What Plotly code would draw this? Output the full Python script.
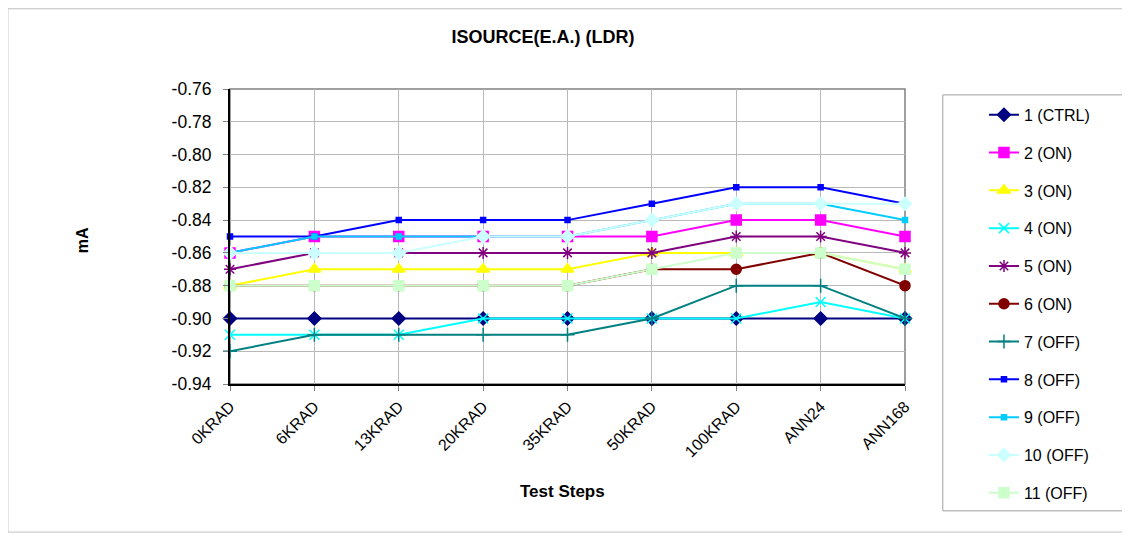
import plotly.graph_objects as go

# ── DATA ──────────────────────────────────────────────────────────────────────
steps = ["0KRAD", "6KRAD", "13KRAD", "20KRAD", "35KRAD", "50KRAD", "100KRAD", "ANN24", "ANN168"]
y_ticks = [-0.76, -0.78, -0.80, -0.82, -0.84, -0.86, -0.88, -0.90, -0.92, -0.94]

s1_ctrl = [-0.90, -0.90, -0.90, -0.90, -0.90, -0.90, -0.90, -0.90, -0.90]
s2_on = [-0.86, -0.85, -0.85, -0.85, -0.85, -0.85, -0.84, -0.84, -0.85]
s3_on = [-0.88, -0.87, -0.87, -0.87, -0.87, -0.86, -0.86, -0.86, -0.87]
s4_on = [-0.91, -0.91, -0.91, -0.90, -0.90, -0.90, -0.90, -0.89, -0.90]
s5_on = [-0.87, -0.86, -0.86, -0.86, -0.86, -0.86, -0.85, -0.85, -0.86]
s6_on = [-0.88, -0.88, -0.88, -0.88, -0.88, -0.87, -0.87, -0.86, -0.88]
s7_off = [-0.92, -0.91, -0.91, -0.91, -0.91, -0.90, -0.88, -0.88, -0.90]
s8_off = [-0.85, -0.85, -0.84, -0.84, -0.84, -0.83, -0.82, -0.82, -0.83]
s9_off = [-0.86, -0.85, -0.85, -0.85, -0.85, -0.84, -0.83, -0.83, -0.84]
s10_off = [-0.86, -0.86, -0.86, -0.85, -0.85, -0.84, -0.83, -0.83, -0.83]
s11_off = [-0.88, -0.88, -0.88, -0.88, -0.88, -0.87, -0.86, -0.86, -0.87]

series = [
    ("1 (CTRL)", s1_ctrl, "#000080", "diamond", 10),
    ("2 (ON)", s2_on, "#FF00FF", "square", 10),
    ("3 (ON)", s3_on, "#FFFF00", "triangle-up", 11),
    ("4 (ON)", s4_on, "#00FFFF", "x-thin-open", 10),
    ("5 (ON)", s5_on, "#800080", "asterisk-open", 10),
    ("6 (ON)", s6_on, "#800000", "circle", 10),
    ("7 (OFF)", s7_off, "#008080", "cross-thin-open", 10),
    ("8 (OFF)", s8_off, "#0000FF", "square", 5),
    ("9 (OFF)", s9_off, "#00CCFF", "square", 5),
    ("10 (OFF)", s10_off, "#CCFFFF", "diamond", 10),
    ("11 (OFF)", s11_off, "#CCFFCC", "square", 10),
]

FONT = "Liberation Sans, Arial, sans-serif"

fig = go.Figure()

for i, (name, vals, color, symbol, size) in enumerate(series):
    fig.add_trace(
        go.Scatter(
            x=steps,
            y=vals,
            name=name,
            mode="lines+markers",
            line=dict(color=color, width=2),
            marker=dict(symbol=symbol, size=size, color=color,
                        line=dict(color=color, width=1.5)),
            cliponaxis=False,
            legendgroup=f"g{i}",
        )
    )

# ── FRAMES (chart area, plot area, legend box) ───────────────────────────────
fig.add_shape(type="rect", xref="paper", yref="paper",
              x0=-0.329, x1=1.329, y0=-0.502, y1=1.272,
              line=dict(color="#c0c0c0", width=1), layer="below")
fig.add_shape(type="rect", xref="paper", yref="paper",
              x0=0, x1=1, y0=0, y1=1,
              line=dict(color="#808080", width=1.5), layer="below")
fig.add_shape(type="rect", xref="paper", yref="paper",
              x0=1.056, x1=1.36, y0=-0.43, y1=0.98,
              line=dict(color="#a0a0a0", width=1), layer="below")

# ── AXIS TITLES ───────────────────────────────────────────────────────────────
fig.add_annotation(x=-0.219, y=0.488, xref="paper", yref="paper",
                   xanchor="center", yanchor="middle",
                   text="<b>mA</b>", textangle=-90, showarrow=False,
                   font=dict(size=16))
fig.add_annotation(x=0.493, y=-0.366, xref="paper", yref="paper",
                   xanchor="center", yanchor="middle",
                   text="<b>Test Steps</b>", showarrow=False,
                   font=dict(size=17))

# ── LAYOUT ────────────────────────────────────────────────────────────────────
fig.update_layout(
    width=1122,
    height=529,
    margin=dict(l=222, r=225, t=81, b=153),
    paper_bgcolor="white",
    plot_bgcolor="white",
    font=dict(family=FONT, size=16, color="black"),
    title=dict(text="<b>ISOURCE(E.A.) (LDR)</b>", x=535 / 1122, xanchor="center",
               y=1 - 29 / 529, yanchor="middle", font=dict(size=18)),
    xaxis=dict(
        type="category",
        range=[0, len(steps) - 1],
        tickangle=-45,
        showgrid=True,
        gridcolor="#b8b8b8",
        gridwidth=1,
        showline=True,
        linecolor="black",
        linewidth=2,
        ticks="outside",
        ticklen=5,
        tickcolor="#808080",
    ),
    yaxis=dict(
        range=[-0.94, -0.76],
        tickvals=y_ticks,
        ticktext=[f"{v:.2f}" for v in y_ticks],
        tickfont=dict(size=17.5),
        ticklabelstandoff=8,
        showgrid=True,
        gridcolor="#b8b8b8",
        gridwidth=1,
        zeroline=False,
        showline=True,
        linecolor="black",
        linewidth=2,
        ticks="outside",
        ticklen=5,
        tickcolor="#808080",
    ),
    legend=dict(
        x=1.117,
        xanchor="left",
        y=0.97,
        yanchor="top",
        tracegroupgap=14,
        maxheight=520,
        font=dict(size=16),
        bgcolor="rgba(0,0,0,0)",
    ),
)

fig.write_html("out.html")
